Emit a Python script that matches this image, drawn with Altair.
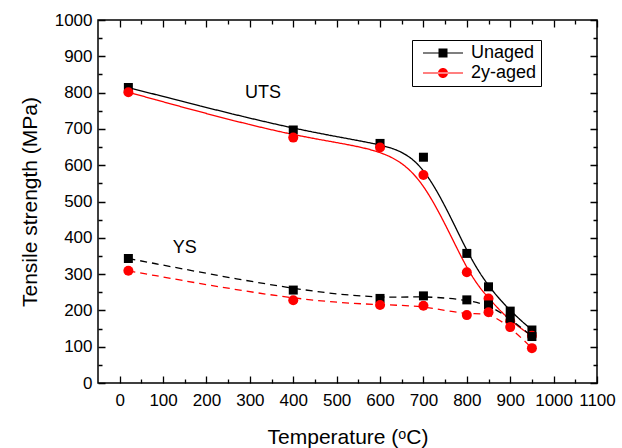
import altair as alt
import pandas as pd

temps = [20, 400, 600, 700, 800, 850, 900, 950]
uts_unaged = [814, 697, 660, 622, 357, 265, 198, 146]
uts_aged = [801, 676, 649, 573, 305, 233, 170, 130]
ys_unaged = [343, 256, 233, 240, 229, 215, 178, 128]
ys_aged = [309, 228, 215, 213, 187, 195, 154, 96]

series_names = ["Unaged", "2y-aged"]
series_colors = ["#000000", "#ff0000"]
props = ["UTS", "YS"]

ann_labels = ["UTS", "YS"]
ann_temp = [330, 150]
ann_val = [800, 372]

x_ticks = list(range(0, 1101, 50))
y_ticks = list(range(0, 1001, 50))

rows = []
for prop, vu, va in [("UTS", uts_unaged, uts_aged), ("YS", ys_unaged, ys_aged)]:
    for s, vals in [("Unaged", vu), ("2y-aged", va)]:
        for t, v in zip(temps, vals):
            rows.append({"temp": t, "value": v, "series": s, "prop": prop, "key": prop + "_" + s})
df = pd.DataFrame(rows)
ann = pd.DataFrame({"label": ann_labels, "temp": ann_temp, "value": ann_val})

FONT = "Liberation Sans"
XT = "Temperature (ᵒC)"
YT = "Tensile strength (MPa)"
W, H = 499, 363
MAJ = 7

xscale = alt.Scale(domain=[-50, 1100], nice=False, zero=False)
yscale = alt.Scale(domain=[0, 1000], nice=False, zero=False)

# Inward ticks: the axis is moved MAJ px into the plot and its ticks point back to the frame.
# Minor ticks (every odd 50) show only their outer 4 px through a dash pattern.
minor_test = "datum.value % 100 != 0"
tick_dash = {"condition": {"test": minor_test, "value": [0, 3, 4, 0]}, "value": [1, 0]}
label_expr = "datum.value % 100 == 0 ? datum.label : ''"

common = dict(tickSize=MAJ, offset=-MAJ, domain=False, grid=False, ticks=True,
              tickColor="black", tickWidth=1.3, tickDash=tick_dash, labelOverlap=False)

xaxis = alt.Axis(values=x_ticks, format="d", labelExpr=label_expr, labelPadding=9,
                 titlePadding=18, labelFlush=False, tickCount=23, **common)
yaxis = alt.Axis(values=y_ticks, format="d", labelExpr=label_expr, labelPadding=6,
                 titlePadding=14, tickCount=21, **common)
xaxis_top = alt.Axis(values=x_ticks, orient="top", labels=False, title=None, **common)
yaxis_right = alt.Axis(values=y_ticks, orient="right", labels=False, title=None, **common)

X = alt.X("temp:Q", scale=xscale, axis=xaxis, title=XT)
Y = alt.Y("value:Q", scale=yscale, axis=yaxis, title=YT)


def cenc(legend=None):
    return alt.Color("series:N", scale=alt.Scale(domain=series_names, range=series_colors), legend=legend)


lines = alt.Chart(df).mark_line(interpolate="basis", strokeWidth=1.3).encode(
    x=X, y=Y,
    color=cenc(),
    strokeDash=alt.StrokeDash("prop:N", scale=alt.Scale(domain=props, range=[[1, 0], [7, 5]]), legend=None),
    detail="key:N",
)

points = alt.Chart(df).mark_point(filled=True, opacity=1, strokeWidth=0).encode(
    x=X, y=Y,
    color=cenc(),
    shape=alt.Shape("series:N", scale=alt.Scale(domain=series_names, range=["square", "circle"]), legend=None),
    size=alt.Size("series:N", scale=alt.Scale(domain=series_names, range=[81, 100]), legend=None),
)

texts = alt.Chart(ann).mark_text(font=FONT, fontSize=18, color="black").encode(
    x=X, y=Y, text="label:N",
)

sq_path = "M-4,-0.12H4V0.12H-4Z M-0.9,-0.9H0.9V0.9H-0.9Z"
ci_path = "M-4,-0.12H4V0.12H-4Z M-1,0A1,1 0 1,0 1,0A1,1 0 1,0 -1,0Z"

leg = alt.Legend(title=None, orient="none", legendX=314, legendY=20, strokeColor="black",
                 padding=4, symbolSize=100, symbolStrokeWidth=0, symbolOffset=18,
                 labelOffset=19, rowPadding=2, labelFont=FONT, labelFontSize=18,
                 labelColor="black")

legend_layer = alt.Chart(df).transform_filter("false").mark_point(filled=True, opacity=1).encode(
    x=X, y=Y,
    color=cenc(leg),
    shape=alt.Shape("series:N", scale=alt.Scale(domain=series_names, range=[sq_path, ci_path]), legend=leg),
)

mirror_layer = alt.Chart(df).transform_filter("false").mark_point().encode(
    x=alt.X("temp:Q", scale=xscale, axis=xaxis_top),
    y=alt.Y("value:Q", scale=yscale, axis=yaxis_right),
)

main = alt.layer(lines, points, texts, legend_layer).resolve_scale(
    color="independent", shape="independent"
)

chart = alt.layer(main, mirror_layer).resolve_scale(
    x="independent", y="independent"
).properties(
    width=W, height=H,
    autosize=alt.AutoSizeParams(type="none"),
    padding={"left": 98, "top": 20, "right": 25, "bottom": 65},
    background="white",
).configure_view(
    stroke="black", strokeWidth=1.5
).configure_axis(
    labelFont=FONT, labelFontSize=17, labelColor="black",
    titleFont=FONT, titleFontSize=21, titleFontWeight="normal", titleColor="black",
)

chart.save("out.html", embed_options={"renderer": "svg", "actions": False})
